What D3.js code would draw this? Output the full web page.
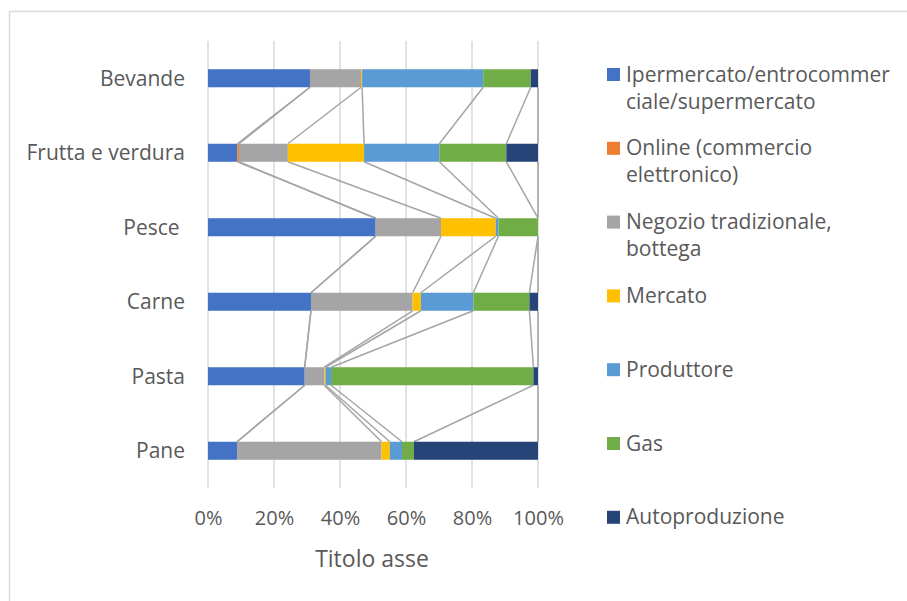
<!DOCTYPE html>
<html>
<head>
<meta charset="utf-8">
<script src="https://cdn.jsdelivr.net/npm/d3@7"></script>
<style>
  body { margin: 0; background: #fff; }
  svg { font-family: "Open Sans", sans-serif; }
  text { fill: #595959; white-space: pre; }
</style>
</head>
<body>
<svg id="chart" width="907" height="601"></svg>
<script>
// categories top to bottom
const categories = ['Bevande', 'Frutta e verdura', 'Pesce ', 'Carne', 'Pasta', 'Pane'];

const seriesKeys = ['iper', 'online', 'negozio', 'mercato', 'produttore', 'gas', 'auto'];
const legendLabels = [
  ['Ipermercato/entrocommer', 'ciale/supermercato'],
  ['Online (commercio', 'elettronico)'],
  ['Negozio tradizionale,', 'bottega'],
  ['Mercato'],
  ['Produttore'],
  ['Gas'],
  ['Autoproduzione']
];
const colors = ['#4472C4', '#ED7D31', '#A5A5A5', '#FFC000', '#5B9BD5', '#70AD47', '#264478'];

// percent values, same order as categories
const iper       = [30.9,  8.9, 50.8, 31.2, 29.3,  8.8];
const online     = [ 0.0,  0.5,  0.0,  0.0,  0.0,  0.0];
const negozio    = [15.5, 14.8, 19.8, 30.8,  5.9, 43.8];
const mercato    = [ 0.3, 23.1, 16.6,  2.5,  0.4,  2.5];
const produttore = [36.7, 22.8,  0.8, 15.9,  1.7,  3.7];
const gas        = [14.4, 20.3, 12.0, 17.0, 61.3,  3.6];
const auto       = [ 2.2,  9.6,  0.0,  2.6,  1.4, 37.6];

const xTicks = [0, 0.2, 0.4, 0.6, 0.8, 1];

const rows = categories.map((c, i) => ({
  cat: c,
  iper: iper[i], online: online[i], negozio: negozio[i], mercato: mercato[i],
  produttore: produttore[i], gas: gas[i], auto: auto[i]
}));

const stacked = d3.stack().keys(seriesKeys).offset(d3.stackOffsetExpand)(rows);

const svg = d3.select('#chart');

// chart area border (only left/top visible in the crop)
svg.append('rect')
  .attr('x', 9.5).attr('y', 11.5)
  .attr('width', 1000).attr('height', 700)
  .attr('fill', '#fff')
  .attr('stroke', '#d9d9d9')
  .attr('stroke-width', 1.5);

const x = d3.scaleLinear().domain([0, 1]).range([208, 538]);
const y = d3.scaleBand().domain(categories).range([41, 488])
  .paddingInner(0.758).paddingOuter(0.379);

// gridlines
svg.append('g')
  .selectAll('line')
  .data(xTicks)
  .join('line')
  .attr('x1', d => x(d)).attr('x2', d => x(d))
  .attr('y1', 41).attr('y2', 488)
  .attr('stroke', '#d9d9d9')
  .attr('stroke-width', 1.5);

// series lines between adjacent bars
const seriesLines = [];
stacked.forEach(s => {
  for (let i = 0; i < categories.length - 1; i++) {
    seriesLines.push({
      x1: x(s[i][1]), y1: y(categories[i]) + y.bandwidth(),
      x2: x(s[i + 1][1]), y2: y(categories[i + 1])
    });
  }
});
svg.append('g')
  .selectAll('line')
  .data(seriesLines)
  .join('line')
  .attr('x1', d => d.x1).attr('y1', d => d.y1)
  .attr('x2', d => d.x2).attr('y2', d => d.y2)
  .attr('stroke', '#a5a5a5')
  .attr('stroke-width', 1.5);

// bars
svg.append('g')
  .selectAll('g')
  .data(stacked)
  .join('g')
  .attr('fill', (d, i) => colors[i])
  .selectAll('rect')
  .data(d => d)
  .join('rect')
  .attr('x', d => x(d[0]))
  .attr('width', d => x(d[1]) - x(d[0]))
  .attr('y', d => y(d.data.cat))
  .attr('height', y.bandwidth());

// category labels
svg.append('g')
  .selectAll('text')
  .data(categories)
  .join('text')
  .attr('x', 185)
  .attr('y', d => y(d) + y.bandwidth() / 2)
  .attr('dy', '0.35em')
  .attr('text-anchor', 'end')
  .style('font-size', '21px')
  .text(d => d);

// x axis tick labels
const xAxis = svg.append('g').attr('transform', 'translate(0, 525)')
  .call(d3.axisBottom(x).tickValues(xTicks).tickFormat(d3.format('.0%')).tickSize(0).tickPadding(0));
xAxis.select('.domain').remove();
xAxis.selectAll('text')
  .attr('fill', '#595959')
  .attr('dy', 0)
  .style('font-size', '20px')
  .style('font-family', '"Open Sans", sans-serif');

// axis title
svg.append('text')
  .attr('x', 372).attr('y', 567)
  .attr('text-anchor', 'middle')
  .style('font-size', '23px')
  .text('Titolo asse');

// legend
const legend = svg.append('g')
  .selectAll('g')
  .data(legendLabels)
  .join('g')
  .attr('transform', (d, i) => `translate(607, ${68 + i * 73.8})`);

legend.append('rect')
  .attr('width', 13).attr('height', 13)
  .attr('fill', (d, i) => colors[i]);

legend.append('text')
  .attr('x', 19)
  .style('font-size', '21px')
  .selectAll('tspan')
  .data(d => d)
  .join('tspan')
  .attr('x', 19)
  .attr('y', (d, i) => 13.5 + i * 27)
  .text(d => d);
</script>
</body>
</html>
